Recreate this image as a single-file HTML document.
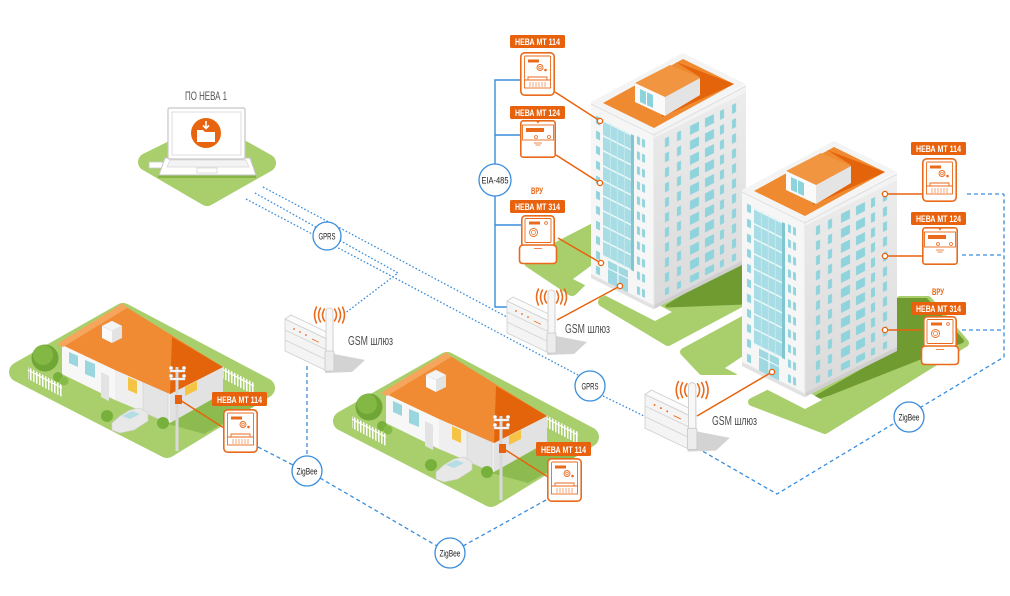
<!DOCTYPE html>
<html><head><meta charset="utf-8"><title>НЕВА</title>
<style>
html,body{margin:0;padding:0;background:#fff;width:1010px;height:596px;overflow:hidden}
svg{display:block}
text{font-family:"Liberation Sans Narrow","Liberation Sans",sans-serif}
</style></head><body>
<svg width="1010" height="596" viewBox="0 0 1010 596" xmlns="http://www.w3.org/2000/svg" xmlns:xlink="http://www.w3.org/1999/xlink">
<defs>
<linearGradient id="rw" x1="0" y1="0" x2="0" y2="1"><stop offset="0" stop-color="#ededed"/><stop offset="1" stop-color="#dadada"/></linearGradient>
<pattern id="winL" x="0" y="8" width="63" height="15" patternUnits="userSpaceOnUse">
<rect x="5" y="3" width="4" height="8" fill="#92d4dd"/><rect x="46" y="3" width="3" height="8" fill="#92d4dd"/><rect x="51" y="3" width="3" height="8" fill="#92d4dd"/>
</pattern>
<pattern id="winR" x="0" y="8" width="92" height="15" patternUnits="userSpaceOnUse">
<rect x="11" y="3" width="4" height="9" fill="#8fd3dc"/><rect x="23" y="3" width="4" height="9" fill="#8fd3dc"/><rect x="36" y="3" width="9" height="9" fill="#8fd3dc"/><rect x="51" y="3" width="9" height="9" fill="#8fd3dc"/><rect x="66" y="3" width="4" height="9" fill="#8fd3dc"/><rect x="78" y="3" width="4" height="9" fill="#8fd3dc"/>
</pattern>
<pattern id="glass" x="12" y="12" width="28" height="15" patternUnits="userSpaceOnUse">
<rect x="0" y="0" width="28" height="1.6" fill="#eef9fa"/><rect x="7" y="0" width=".8" height="15" fill="#c8ebef"/><rect x="14" y="0" width=".8" height="15" fill="#c8ebef"/><rect x="21" y="0" width=".8" height="15" fill="#c8ebef"/>
</pattern>
<pattern id="pk" x="0" y="0" width="3" height="12" patternUnits="userSpaceOnUse"><rect width="1.5" height="12" fill="#ffffff"/></pattern>

<g id="m114">
<rect x="0.8" y="0.8" width="33.4" height="42.4" rx="4" fill="#fff" stroke="#ea6a1c" stroke-width="1.6"/>
<rect x="4.5" y="4" width="26" height="24" rx="1" fill="none" stroke="#ea6a1c" stroke-width="0.9"/>
<rect x="8" y="7.5" width="11" height="3" fill="#ea6a1c"/>
<circle cx="20" cy="15.5" r="3" fill="none" stroke="#ea6a1c" stroke-width="0.9"/>
<circle cx="20" cy="15.5" r="1.3" fill="none" stroke="#ea6a1c" stroke-width="0.7"/>
<circle cx="25.5" cy="18" r="1.3" fill="#ea6a1c"/>
<path d="M8 28 v-3 h19 v3" fill="none" stroke="#ea6a1c" stroke-width="0.9"/>
<rect x="4.5" y="28" width="26" height="8" fill="none" stroke="#ea6a1c" stroke-width="0.9"/>
<path d="M10 30 v5 M13 30 v5 M16 30 v5 M19 30 v5 M22 30 v5 M25 30 v5" stroke="#ea6a1c" stroke-width="0.6"/>
</g>
<g id="m124">
<rect x="0.8" y="0.8" width="34.4" height="36.4" rx="2.5" fill="#fff" stroke="#ea6a1c" stroke-width="1.6"/>
<rect x="2.5" y="5" width="31" height="15" fill="none" stroke="#ea6a1c" stroke-width="0.9"/>
<path d="M16 1 l2 2.5 2 -2.5z" fill="#ea6a1c"/>
<rect x="6" y="8" width="18" height="4" fill="#ea6a1c"/>
<circle cx="16" cy="17" r="1.5" fill="none" stroke="#ea6a1c" stroke-width="0.8"/>
<circle cx="29" cy="17" r="1.5" fill="none" stroke="#ea6a1c" stroke-width="0.8"/>
<path d="M14 23 h8 M15.5 25 h5" stroke="#ea6a1c" stroke-width="0.7"/>
</g>
<g id="m314">
<rect x="0.8" y="0.8" width="32.4" height="34" rx="3.5" fill="#fff" stroke="#ea6a1c" stroke-width="1.6"/>
<rect x="4" y="3.5" width="26" height="24" rx="1" fill="none" stroke="#ea6a1c" stroke-width="0.9"/>
<rect x="8" y="6.5" width="11" height="3" fill="#ea6a1c"/>
<circle cx="25" cy="8" r="1.4" fill="none" stroke="#ea6a1c" stroke-width="0.8"/>
<circle cx="12.5" cy="17.5" r="4" fill="none" stroke="#ea6a1c" stroke-width="0.9"/>
<circle cx="12.5" cy="17.5" r="2" fill="none" stroke="#ea6a1c" stroke-width="0.7"/>
<path d="M-1.5 34 Q-1.5 30 3 30 H31 Q35.5 30 35.5 34 V45 Q35.5 48.5 32 48.5 H2 Q-1.5 48.5 -1.5 45 Z" fill="#fff" stroke="#ea6a1c" stroke-width="1.6"/>
<path d="M13 33.5 h8" stroke="#ea6a1c" stroke-width="0.8"/>
</g>
<g id="gw">
<polygon points="44,40 80,47 67,59 40,60" fill="#d3d3d3"/>
<polygon points="0,6 42,26 42,58 0,38" fill="#f4f4f4" stroke="#cfcfcf" stroke-width=".8"/>
<polygon points="0,6 6,2 48,22 42,26" fill="#fbfbfb" stroke="#cfcfcf" stroke-width=".8"/>
<polygon points="42,26 48,22 48,54 42,58" fill="#e2e2e2" stroke="#cfcfcf" stroke-width=".8"/>
<path d="M0 17 L42 37 M0 27 L42 47" stroke="#d2d2d2" stroke-width=".8"/>
<circle cx="9" cy="16" r=".9" fill="#ea6a1c"/><circle cx="15" cy="19" r=".9" fill="#ea6a1c"/><circle cx="21" cy="22" r=".9" fill="#ea6a1c"/>
<path d="M27 26 l7 3.3" stroke="#ea6a1c" stroke-width=".8"/>
<rect x="41" y="-5" width="7" height="50" rx="3.5" fill="#f7f7f7" stroke="#c9c9c9" stroke-width=".8"/>
<rect x="40" y="38" width="9" height="20" rx="1" fill="#ececec" stroke="#c9c9c9" stroke-width=".8"/>
<g fill="none" stroke="#ea6a1c" stroke-width="1.5" stroke-linecap="round">
<path d="M39.5,-4 Q35.5,2 39.5,8"/><path d="M35.5,-5 Q31.5,2 35.5,9"/><path d="M31.5,-6 Q27.5,2 31.5,10"/>
<path d="M49.5,-4 Q53.5,2 49.5,8"/><path d="M53.5,-5 Q57.5,2 53.5,9"/><path d="M57.5,-6 Q61.5,2 57.5,10"/>
</g>
</g>
</defs>

<!-- blue connectors -->
<g fill="none" stroke="#3a8ddc" stroke-width="1.3">
<g stroke-dasharray="1.6 2">
<path d="M263,187 L507,317"/>
<path d="M255,193 L398,273 L344,314"/>
<path d="M246,199 L578,375"/>
<path d="M603,396 L646,417"/>
</g>
<g stroke-dasharray="4 3">
<path d="M307,366 L307,456"/>
<path d="M258,447 L293,465"/>
<path d="M320,478 L437,546"/>
<path d="M463,546 L546,500"/>
<path d="M697,448 L777,494 L1004,357 L1004,194"/>
<path d="M967,194 L1004,194 M962,255 L1004,255 M962,330 L1004,330"/>
</g>
<path d="M520,80 H495 V307 H508 M495,135 H520 M495,225 H521" stroke-width="1.4"/>
</g>

<!-- laptop -->
<polygon points="147,162 210,131 267,163 207,197" fill="#a9cf6d" stroke="#a9cf6d" stroke-width="18" stroke-linejoin="round"/>
<rect x="158" y="175" width="98" height="3" fill="#86b546"/>
<rect x="149" y="162" width="14" height="6" fill="#fff" stroke="#c8c8c8" stroke-width=".8"/>
<polygon points="165,158 250,158 256,175 159,175" fill="#fff" stroke="#c6c6c6" stroke-width="1"/>
<polygon points="170,160 246,160 249,167 167,167" fill="#f3f3f3" stroke="#d5d5d5" stroke-width=".7"/>
<rect x="197" y="168" width="20" height="5" fill="#fff" stroke="#d0d0d0" stroke-width=".7"/>
<rect x="168" y="108" width="77" height="51" rx="1.5" fill="#fff" stroke="#c6c6c6" stroke-width="1.2"/>
<rect x="172" y="112" width="69" height="43" fill="#fff" stroke="#d6d6d6" stroke-width=".8"/>
<circle cx="206" cy="133" r="15" fill="#e8650f"/>
<path d="M197,130 h6 l2,2 h10 v10 h-18 z" fill="#fff"/>
<path d="M206,121 v7 M203,125.5 l3,3 3,-3" stroke="#fff" stroke-width="1.6" fill="none"/>
<text x="206" y="100" font-size="12" fill="#555" text-anchor="middle" textLength="42" lengthAdjust="spacingAndGlyphs">ПО НЕВА 1</text>

<!-- houses -->
<g id="house">
<polygon points="19,372 123,313 265,388 167,448" fill="#a9cf6d" stroke="#a9cf6d" stroke-width="20" stroke-linejoin="round"/>
<polygon points="168,424 222,394 262,402 204,434" fill="#8dbb50"/>
<polygon points="28,367 62,385 62,397 28,379" fill="url(#pk)"/>
<line x1="28" y1="370" x2="62" y2="388" stroke="#fff" stroke-width="1.2"/>
<polygon points="220,365 254,383 254,395 220,377" fill="url(#pk)"/>
<line x1="220" y1="368" x2="254" y2="386" stroke="#fff" stroke-width="1.2"/>
<circle cx="45" cy="358" r="13.5" fill="#6fa636"/>
<circle cx="43" cy="355" r="10" fill="#82b843"/>
<polygon points="62,343 115,368 115,400 62,374" fill="#f7f7f7"/>
<polygon points="115,368 170,393 170,423 115,400" fill="#efefef"/>
<polygon points="170,393 223,367 223,393 170,423" fill="#e2e2e2"/>
<polygon points="69,352 78,356 78,367 69,363" fill="#9ad6de"/>
<polygon points="85,360 95,364 95,378 85,374" fill="#9ad6de"/>
<polygon points="101,372 109,376 109,401 101,397" fill="#e3e3e3"/>
<polygon points="128,377 137,381 137,394 128,390" fill="#f5c445"/>
<polygon points="143,382 168,393 168,423 143,412" fill="#e4e4e4" stroke="#d2d2d2" stroke-width=".6"/>
<polygon points="185,387 197,381 197,390 185,396" fill="#f5c445"/>
<polygon points="60,344 123,305 223,367 170,394 115,370" fill="#f08b33"/>
<polygon points="172,337 223,367 170,394" fill="#e4640c"/>
<polygon points="57,344 123,303 127,308 63,347" fill="#f6a65c"/>
<polygon points="102,326 112,331 112,343 102,338" fill="#fafafa"/>
<polygon points="112,331 122,326 122,338 112,343" fill="#e3e3e3"/>
<polygon points="102,326 112,321 122,326 112,331" fill="#f4f4f4" stroke="#dcdcdc" stroke-width=".5"/>
<circle cx="58" cy="377" r="5" fill="#78b03c"/><circle cx="64" cy="381" r="4.5" fill="#86bb47"/>
<circle cx="107" cy="416" r="6" fill="#78b03c"/>
<circle cx="163" cy="423" r="6" fill="#78b03c"/>
<polygon points="112,423 120,416 130,410 140,408 148,413 148,421 134,430 120,433 112,430" fill="#e8e8e8" stroke="#cfcfcf" stroke-width=".6"/>
<polygon points="122,416 132,411 140,414 130,419" fill="#b4dde4"/>
<rect x="175.5" y="367" width="3" height="84" fill="#d9d9d9"/>
<rect x="170" y="370" width="15" height="2" fill="#fff" stroke="#cfcfcf" stroke-width=".5"/>
<rect x="170" y="378" width="15" height="2" fill="#fff" stroke="#cfcfcf" stroke-width=".5"/>
<circle cx="171" cy="368" r="1.8" fill="#fff" stroke="#ccc" stroke-width=".5"/><circle cx="184" cy="368" r="1.8" fill="#fff" stroke="#ccc" stroke-width=".5"/>
<circle cx="171" cy="376" r="1.8" fill="#fff" stroke="#ccc" stroke-width=".5"/><circle cx="184" cy="376" r="1.8" fill="#fff" stroke="#ccc" stroke-width=".5"/>
<rect x="175" y="395" width="7" height="9" fill="#e8620d"/>
<path d="M180,400 L224,428" stroke="#e8620d" stroke-width="1.5"/>
</g>
<use xlink:href="#house" href="#house" transform="translate(324,49)"/>

<!-- grounds around buildings -->
<g stroke-linejoin="round">
<polygon points="530,262 596,228 596,266 572,290" fill="#a9cf6d" stroke="#a9cf6d" stroke-width="12"/>
<polygon points="603,302 745,229 745,300 668,341" fill="#a9cf6d" stroke="#a9cf6d" stroke-width="10"/>
<polygon points="592,265 573,279 655,321 672,312 655,303" fill="#fff"/>
<polygon points="667,306 745,258 745,303" fill="#6f9b30" stroke="#6f9b30" stroke-width="3"/>
<polygon points="684,352 745,319 745,362 735,371 702,371" fill="#a9cf6d" stroke="#a9cf6d" stroke-width="8"/>
<polygon points="752,402 820,368 900,300 928,300 965,343 825,430" fill="#a9cf6d" stroke="#a9cf6d" stroke-width="8"/>
<polygon points="815,398 897,351 897,300 926,300 962,341 828,394" fill="#6f9b30" stroke="#6f9b30" stroke-width="4"/>
<polygon points="743,356 725,368 805,409 822,400 805,390" fill="#fff"/>
</g>

<!-- building -->
<g id="bld">
<polygon points="591,102 654,133 654,309 591,278" fill="#f6f6f6"/>
<polygon points="654,133 746,85 746,261 654,309" fill="url(#rw)"/>
<g transform="matrix(1,0.5,0,1,591,102)">
<rect x="0" y="8" width="63" height="162" fill="url(#winL)"/>
<rect x="12" y="12" width="28" height="136" fill="#a8dde5"/>
<rect x="12" y="12" width="28" height="136" fill="url(#glass)"/>
<rect x="40" y="12" width="3" height="136" fill="#7fc6d0"/>
<rect x="17" y="150" width="20" height="25" fill="#9fd8e0"/>
<path d="M27 150 V175 M17 158 H37" stroke="#fff" stroke-width="1"/>
<rect x="0" y="172" width="63" height="4" fill="#e2e2e2"/>
</g>
<g transform="matrix(1,-0.5,0,1,654,133)">
<rect x="0" y="0" width="92" height="5" fill="#f3f3f3"/>
<rect x="0" y="8" width="92" height="160" fill="url(#winR)"/>
<rect x="0" y="172" width="92" height="4" fill="#cfcfcf"/>
</g>
<line x1="654" y1="133" x2="654" y2="309" stroke="#e4e4e4" stroke-width="1"/>
<polygon points="591,102 683,53 746,84 654,133" fill="#f4f4f4"/>
<polyline points="591,104 654,135 746,86" stroke="#e1e1e1" fill="none" stroke-width="1"/>
<polygon points="603,103 683,59 734,84 654,128" fill="#f08a30"/>
<polygon points="676,62 734,84 662,117 663,97 700,77" fill="#e4640c"/>
<polygon points="635,83 670,65 700,78 665,97" fill="#f29540"/>
<polygon points="635,83 665,97 665,116 635,102" fill="#fafafa"/>
<polygon points="665,97 700,78 700,95 665,116" fill="#e4e4e4"/>
<polygon points="640,89 653,95 653,108 640,102" fill="#8dd3dc"/>
<line x1="646.5" y1="92" x2="646.5" y2="105" stroke="#fff" stroke-width="1"/>
</g>
<use xlink:href="#bld" href="#bld" transform="translate(151,88)"/>

<!-- gateways -->
<use xlink:href="#gw" href="#gw" transform="translate(285,313)"/>
<use xlink:href="#gw" href="#gw" transform="translate(507,295)"/>
<use xlink:href="#gw" href="#gw" transform="translate(645,388) scale(1.06)"/>
<g font-size="12.5" fill="#4d4d4d">
<text x="348" y="345" textLength="45" lengthAdjust="spacingAndGlyphs">GSM шлюз</text>
<text x="565" y="333" textLength="45" lengthAdjust="spacingAndGlyphs">GSM шлюз</text>
<text x="712" y="425" textLength="45" lengthAdjust="spacingAndGlyphs">GSM шлюз</text>
</g>

<!-- orange connectors -->
<g stroke="#e8620d" stroke-width="1.5" fill="none">
<path d="M555,92 L600,121 M556,155 L600,183 M558,238 L601,263 M557,320 L620,286"/>
<path d="M922,194 L885,194 M922,256 L885,256 M922,330 L885,330 M697,416 L772,372"/>
</g>
<g fill="#fff" stroke="#e8620d" stroke-width="1.3">
<circle cx="600" cy="121" r="2.6"/><circle cx="600" cy="183" r="2.6"/><circle cx="601" cy="263" r="2.6"/><circle cx="620" cy="286" r="2.6"/>
<circle cx="885" cy="194" r="2.6"/><circle cx="885" cy="256" r="2.6"/><circle cx="885" cy="330" r="2.6"/><circle cx="772" cy="372" r="2.6"/>
</g>

<!-- meters -->
<use xlink:href="#m114" href="#m114" transform="translate(520,52)"/>
<use xlink:href="#m124" href="#m124" transform="translate(520,120)"/>
<use xlink:href="#m314" href="#m314" transform="translate(521,215)"/>
<use xlink:href="#m114" href="#m114" transform="translate(922,158)"/>
<use xlink:href="#m124" href="#m124" transform="translate(922,227)"/>
<use xlink:href="#m314" href="#m314" transform="translate(923,316)"/>
<use xlink:href="#m114" href="#m114" transform="translate(223,409)"/>
<use xlink:href="#m114" href="#m114" transform="translate(547,458)"/>

<!-- labels -->
<g fill="#e8620d">
<rect x="510" y="35" width="55" height="13" rx="1.5"/>
<rect x="510" y="106" width="55" height="13" rx="1.5"/>
<rect x="510" y="200" width="55" height="13" rx="1.5"/>
<rect x="911" y="142" width="55" height="13" rx="1.5"/>
<rect x="911" y="212" width="55" height="13" rx="1.5"/>
<rect x="911" y="302" width="55" height="13" rx="1.5"/>
<rect x="212" y="392" width="55" height="14" rx="1.5"/>
<rect x="536" y="442" width="55" height="14" rx="1.5"/>
</g>
<g fill="#fff" font-size="9.5" font-weight="bold" text-anchor="middle">
<text x="537.5" y="45" textLength="45" lengthAdjust="spacingAndGlyphs">НЕВА МТ 114</text>
<text x="537.5" y="116" textLength="45" lengthAdjust="spacingAndGlyphs">НЕВА МТ 124</text>
<text x="537.5" y="210" textLength="45" lengthAdjust="spacingAndGlyphs">НЕВА МТ 314</text>
<text x="938.5" y="152" textLength="45" lengthAdjust="spacingAndGlyphs">НЕВА МТ 114</text>
<text x="938.5" y="222" textLength="45" lengthAdjust="spacingAndGlyphs">НЕВА МТ 124</text>
<text x="938.5" y="312" textLength="45" lengthAdjust="spacingAndGlyphs">НЕВА МТ 314</text>
<text x="239.5" y="403" textLength="45" lengthAdjust="spacingAndGlyphs">НЕВА МТ 114</text>
<text x="563.5" y="453" textLength="45" lengthAdjust="spacingAndGlyphs">НЕВА МТ 114</text>
</g>
<g fill="#e8620d" font-size="9" font-weight="bold" text-anchor="middle">
<text x="537" y="194" textLength="12" lengthAdjust="spacingAndGlyphs">ВРУ</text>
<text x="938" y="295" textLength="12" lengthAdjust="spacingAndGlyphs">ВРУ</text>
</g>

<!-- circles -->
<g fill="#fff" stroke="#3a8ddc" stroke-width="1.3">
<circle cx="327" cy="236" r="14"/>
<circle cx="590" cy="386" r="15"/>
<circle cx="307" cy="471" r="15"/>
<circle cx="450" cy="553" r="15"/>
<circle cx="909" cy="417" r="15"/>
<circle cx="495" cy="180" r="16"/>
</g>
<g fill="#222" font-size="9.5" text-anchor="middle">
<text x="327" y="239.5" textLength="17" lengthAdjust="spacingAndGlyphs">GPRS</text>
<text x="590" y="389.5" textLength="17" lengthAdjust="spacingAndGlyphs">GPRS</text>
<text x="307" y="474.5" textLength="21" lengthAdjust="spacingAndGlyphs">ZigBee</text>
<text x="450" y="556.5" textLength="21" lengthAdjust="spacingAndGlyphs">ZigBee</text>
<text x="909" y="420.5" textLength="21" lengthAdjust="spacingAndGlyphs">ZigBee</text>
<text x="495" y="183.5" textLength="27" lengthAdjust="spacingAndGlyphs">EIA-485</text>
</g>
</svg>
</body></html>
